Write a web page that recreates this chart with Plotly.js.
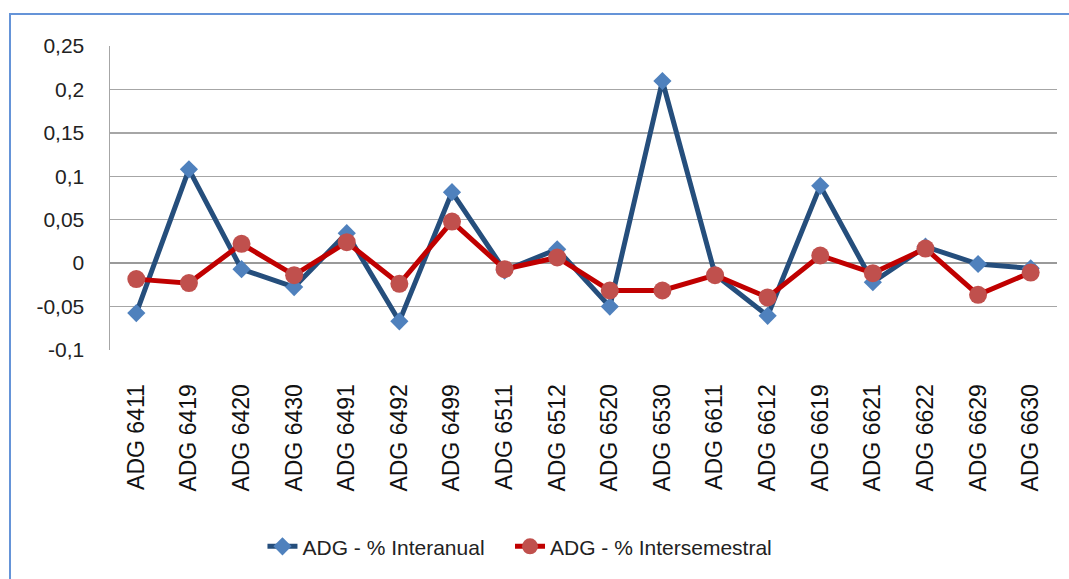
<!DOCTYPE html>
<html>
<head>
<meta charset="utf-8">
<script src="https://cdn.plot.ly/plotly-3.0.1.min.js"></script>
<style>
  html, body { margin: 0; padding: 0; background: #ffffff; overflow: hidden; }
  #frame { position: absolute; left: 9px; top: 13px; width: 1100px; height: 600px; border-left: 2px solid #6594D8; border-top: 2px solid #6594D8; }
  #chart { position: absolute; left: 0; top: 0; width: 1069px; height: 579px; }
</style>
</head>
<body>
<div id="frame"></div>
<div id="chart"></div>
<script>
const categories = ["ADG 6411","ADG 6419","ADG 6420","ADG 6430","ADG 6491","ADG 6492","ADG 6499","ADG 6511","ADG 6512","ADG 6520","ADG 6530","ADG 6611","ADG 6612","ADG 6619","ADG 6621","ADG 6622","ADG 6629","ADG 6630"];
const interanual = [-0.0575, 0.108, -0.007, -0.0276, 0.0345, -0.067, 0.0817, -0.0085, 0.016, -0.050, 0.2097, -0.013, -0.0606, 0.089, -0.022, 0.019, -0.001, -0.006];
const intersemestral = [-0.0184, -0.023, 0.0222, -0.0138, 0.0241, -0.0238, 0.0479, -0.0069, 0.0065, -0.0315, -0.0315, -0.0138, -0.0395, 0.0088, -0.0115, 0.0168, -0.0365, -0.0108];
const yTickVals = [-0.1, -0.05, 0, 0.05, 0.1, 0.15, 0.2, 0.25];
const yTickText = ["-0,1", "-0,05", "0", "0,05", "0,1", "0,15", "0,2", "0,25"];

const traces = [
  {
    x: categories, y: interanual, name: "ADG - % Interanual",
    type: "scatter", mode: "lines+markers", legend: "legend",
    line: { color: "#254E7C", width: 5 },
    marker: { symbol: "diamond", size: 14, color: "#4F81BD" }
  },
  {
    x: categories, y: intersemestral, name: "ADG - % Intersemestral",
    type: "scatter", mode: "lines+markers", legend: "legend2",
    line: { color: "#C00000", width: 5 },
    marker: { symbol: "circle", size: 18, color: "#C0504D" }
  }
];

const legendFont = { family: "Liberation Sans, Arial, sans-serif", size: 21, color: "#222222" };

const layout = {
  width: 1069, height: 579,
  margin: { l: 110, r: 12, t: 45.5, b: 229 },
  paper_bgcolor: "rgba(0,0,0,0)",
  plot_bgcolor: "#ffffff",
  showlegend: true,
  legend: {
    orientation: "h", x: 0.161, xanchor: "left", y: -0.647, yanchor: "middle",
    font: legendFont, bgcolor: "rgba(0,0,0,0)"
  },
  legend2: {
    orientation: "h", x: 0.4224, xanchor: "left", y: -0.647, yanchor: "middle",
    font: legendFont, bgcolor: "rgba(0,0,0,0)"
  },
  xaxis: {
    type: "category",
    range: [-0.5, 17.5],
    tickangle: -90,
    ticks: "outside", ticklen: 24, tickcolor: "rgba(0,0,0,0)",
    tickfont: { family: "Liberation Sans, Arial, sans-serif", size: 23, color: "#111111" },
    showgrid: false, showline: false, zeroline: false
  },
  yaxis: {
    range: [-0.1, 0.25],
    tickvals: yTickVals, ticktext: yTickText,
    ticks: "outside", ticklen: 20, tickcolor: "rgba(0,0,0,0)",
    tickfont: { family: "Liberation Sans, Arial, sans-serif", size: 21, color: "#222222" },
    showgrid: true, gridcolor: "#A6A6A6", gridwidth: 1.5,
    zeroline: true, zerolinecolor: "#9A9A9A", zerolinewidth: 2,
    showline: true, linecolor: "#A6A6A6", linewidth: 1.5
  }
};

Plotly.newPlot("chart", traces, layout, { displayModeBar: false, staticPlot: true });
</script>
</body>
</html>
